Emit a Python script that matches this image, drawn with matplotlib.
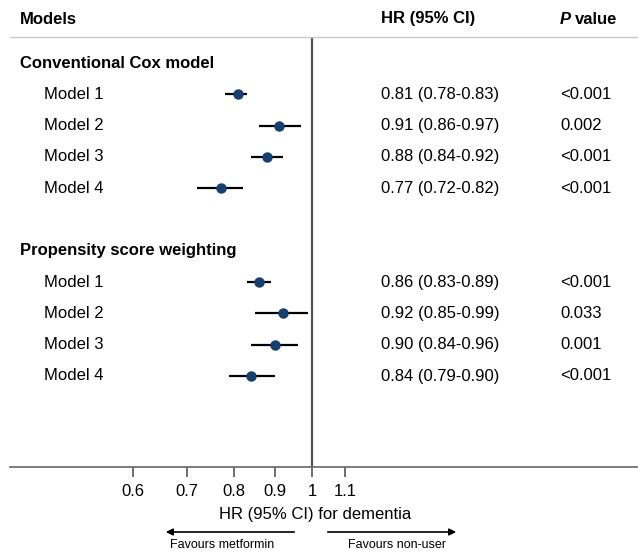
import numpy as np
import matplotlib
matplotlib.use('Agg')
import matplotlib.pyplot as plt

plt.rcParams['font.family'] = ['Liberation Sans', 'DejaVu Sans']

groups = ['Conventional Cox model', 'Propensity score weighting']
models = ['Model 1', 'Model 2', 'Model 3', 'Model 4']
hr = [[0.81, 0.91, 0.88, 0.77], [0.86, 0.92, 0.90, 0.84]]
lo = [[0.78, 0.86, 0.84, 0.72], [0.83, 0.85, 0.84, 0.79]]
hi = [[0.83, 0.97, 0.92, 0.82], [0.89, 0.99, 0.96, 0.90]]
pvals = [['<0.001', '0.002', '<0.001', '<0.001'], ['<0.001', '0.033', '0.001', '<0.001']]
xticks = [0.6, 0.7, 0.8, 0.9, 1, 1.1]
xticklabels = ['0.6', '0.7', '0.8', '0.9', '1', '1.1']

W, H = 638, 552
fig = plt.figure(figsize=(W / 100, H / 100), dpi=100)
# axes from header line (y=37) to axis line (y=467), x from 10 to 638 px
ax = fig.add_axes([10 / W, (H - 467) / H, 1 - 10 / W, (467 - 37) / H])
ax.set_xscale('log')
# 1.0 at pixel 312, 350 px per ln unit
k = 350.0
ax.set_xlim(np.exp((10 - 312) / k), np.exp((638 - 312) / k))
# rows: pixel y = 63 + 31.3*r
ax.set_ylim((467 - 63) / 31.3, (37 - 63) / 31.3)

fs = 12
navy = '#173f6e'
ytr = ax.get_yaxis_transform()


def px(x):
    # pixel column -> axes fraction
    return (x - 10) / (W - 10)


for g in range(2):
    base = g * 6
    ax.text(px(20), base, groups[g], transform=ytr, fontsize=fs,
            fontweight='bold', va='center', ha='left')
    for i in range(4):
        r = base + 1 + i
        ax.plot([lo[g][i], hi[g][i]], [r, r], color='black', lw=1.6,
                solid_capstyle='butt', zorder=3)
        ax.plot(hr[g][i], r, 'o', color=navy, ms=6.5, zorder=4)
        ax.text(px(44), r, models[i], transform=ytr, fontsize=fs,
                va='center', ha='left')
        ax.text(px(381), r, '%.2f (%.2f-%.2f)' % (hr[g][i], lo[g][i], hi[g][i]),
                transform=ytr, fontsize=fs, va='center', ha='left')
        ax.text(px(560), r, pvals[g][i], transform=ytr,
                fontsize=fs, va='center', ha='left')

ax.axvline(1, color='#555555', lw=1.6, zorder=2)

# header
hy = (19 - 63) / 31.3
ax.text(px(20), hy, 'Models', transform=ytr, fontsize=fs,
        fontweight='bold', va='center', ha='left', clip_on=False)
ax.text(px(381), hy, 'HR (95% CI)', transform=ytr, fontsize=fs,
        fontweight='bold', va='center', ha='left', clip_on=False)
ax.text(px(560), hy, 'P', transform=ytr, fontsize=fs,
        fontweight='bold', fontstyle='italic', va='center', ha='left', clip_on=False)
ax.text(px(575), hy, 'value', transform=ytr, fontsize=fs,
        fontweight='bold', va='center', ha='left', clip_on=False)

for s in ['left', 'right']:
    ax.spines[s].set_visible(False)
ax.spines['top'].set_color('#c8c8c8')
ax.spines['top'].set_linewidth(1.0)
ax.spines['bottom'].set_color('#666666')
ax.spines['bottom'].set_linewidth(1.2)
ax.set_yticks([])
ax.set_xticks(xticks)
ax.set_xticklabels(xticklabels)
ax.xaxis.set_minor_locator(matplotlib.ticker.NullLocator())
ax.tick_params(axis='x', length=7, width=1.2, color='#555555', labelsize=fs, pad=5)
ax.set_xlabel('HR (95% CI) for dementia', fontsize=fs)
ax.xaxis.set_label_coords(px(315), -(514 - 467) / (467 - 37))
ax.xaxis.label.set_va('center')

# favour arrows below the axis
atr = ax.get_xaxis_transform()
ay = -(532 - 467) / (467 - 37)
ax.annotate('', xy=(np.exp((163 - 312) / k), ay), xytext=(np.exp((297 - 312) / k), ay),
            xycoords=atr, textcoords=atr,
            arrowprops=dict(arrowstyle='-|>', color='black', lw=1.2, mutation_scale=10))
ax.annotate('', xy=(np.exp((459 - 312) / k), ay), xytext=(np.exp((325 - 312) / k), ay),
            xycoords=atr, textcoords=atr,
            arrowprops=dict(arrowstyle='-|>', color='black', lw=1.2, mutation_scale=10))
ty = -(545 - 467) / (467 - 37)
ax.text(np.exp((222 - 312) / k), ty, 'Favours metformin', transform=atr,
        fontsize=9, ha='center', va='center')
ax.text(np.exp((397 - 312) / k), ty, 'Favours non-user', transform=atr,
        fontsize=9, ha='center', va='center')

fig.savefig('out.png', dpi=100)
